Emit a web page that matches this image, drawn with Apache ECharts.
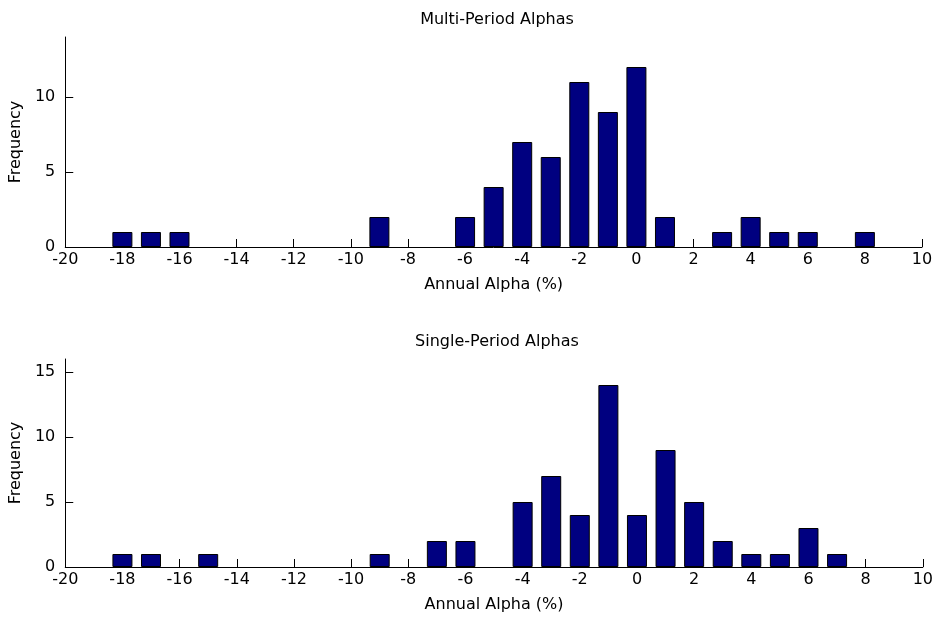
<!DOCTYPE html>
<html>
<head>
<meta charset="utf-8">
<script src="https://cdn.jsdelivr.net/npm/echarts@6/dist/echarts.min.js"></script>
<style>
html,body{margin:0;padding:0;background:#fff;}
#chart{width:936px;height:621px;}
</style>
</head>
<body>
<div id="chart"></div>
<script>
// ---- data ----
var multiTitle = 'Multi-Period Alphas';
var singleTitle = 'Single-Period Alphas';
var xAxisName = 'Annual Alpha (%)';
var yAxisName = 'Frequency';

var multiCenters = [-18, -17, -16, -9, -6, -5, -4, -3, -2, -1, 0, 1, 3, 4, 5, 6, 8];
var multiCounts  = [1, 1, 1, 2, 2, 4, 7, 6, 11, 9, 12, 2, 1, 2, 1, 1, 1];

var singleCenters = [-18, -17, -15, -9, -7, -6, -4, -3, -2, -1, 0, 1, 2, 3, 4, 5, 6, 7];
var singleCounts  = [1, 1, 1, 1, 2, 2, 5, 7, 4, 14, 4, 9, 5, 2, 1, 1, 3, 1];

var xTicks = [-20, -18, -16, -14, -12, -10, -8, -6, -4, -2, 0, 2, 4, 6, 8, 10];
var multiYTicks = [0, 5, 10];
var singleYTicks = [0, 5, 10, 15];

// ---- chart ----
var FONT = 'DejaVu Sans';
var FS = 16;
var chart = echarts.init(document.getElementById('chart'));

function pairs(xs, ys) {
  return xs.map(function (x, i) { return [x, ys[i]]; });
}

function xAxis(gridIndex) {
  return {
    type: 'value', gridIndex: gridIndex, min: -20, max: 10, interval: 2,
    name: xAxisName, nameLocation: 'middle', nameGap: 30,
    nameTextStyle: { color: '#000', fontFamily: FONT, fontSize: FS },
    axisLine: { show: true, onZero: false, lineStyle: { color: '#000', width: 1 } },
    axisTick: { show: true, inside: true, length: 8, customValues: xTicks, lineStyle: { color: '#000' } },
    axisLabel: { color: '#000', fontFamily: FONT, fontSize: FS, margin: 5, customValues: xTicks },
    splitLine: { show: false }
  };
}

function yAxis(gridIndex, max, ticks) {
  return {
    type: 'value', gridIndex: gridIndex, min: 0, max: max,
    name: yAxisName, nameLocation: 'middle', nameGap: 38, nameRotate: 90,
    nameTextStyle: { color: '#000', fontFamily: FONT, fontSize: FS },
    axisLine: { show: true, onZero: false, lineStyle: { color: '#000', width: 1 } },
    axisTick: { show: true, inside: true, length: 8, customValues: ticks, lineStyle: { color: '#000' } },
    axisLabel: { color: '#000', fontFamily: FONT, fontSize: FS, margin: 10, customValues: ticks },
    splitLine: { show: false }
  };
}

var barStyle = { color: '#000080', borderColor: '#000', borderWidth: 1 };

chart.setOption({
  animation: false,
  backgroundColor: '#fff',
  title: [
    { text: multiTitle, left: 492, top: 7, textAlign: 'center',
      textStyle: { color: '#000', fontFamily: FONT, fontSize: FS, fontWeight: 'normal' } },
    { text: singleTitle, left: 492, top: 329, textAlign: 'center',
      textStyle: { color: '#000', fontFamily: FONT, fontSize: FS, fontWeight: 'normal' } }
  ],
  grid: [
    { left: 63, right: 14, top: 37, height: 210 },
    { left: 62, right: 13, top: 359, height: 208 }
  ],
  xAxis: [xAxis(0), xAxis(1)],
  yAxis: [yAxis(0, 14, multiYTicks), yAxis(1, 16, singleYTicks)],
  series: [
    { type: 'bar', xAxisIndex: 0, yAxisIndex: 0, barWidth: 20, itemStyle: barStyle,
      data: pairs(multiCenters, multiCounts) },
    { type: 'bar', xAxisIndex: 1, yAxisIndex: 1, barWidth: 20, itemStyle: barStyle,
      data: pairs(singleCenters, singleCounts) }
  ]
});
</script>
</body>
</html>
